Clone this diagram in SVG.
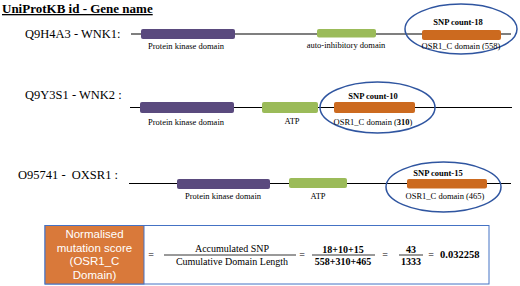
<svg xmlns="http://www.w3.org/2000/svg" width="520" height="286" viewBox="0 0 520 286">
<style>
.t{font-family:"Liberation Serif",serif;fill:#000}
.lbl{font-size:12.5px}
.sm{font-size:8.5px;text-anchor:middle}
.snp{font-size:8.5px;font-weight:bold;text-anchor:middle}
.bb{stroke:#000;stroke-width:1.2}
.pk{fill:#5a4a7e}
.gr{fill:#9bbb59}
.or{fill:#cc6a1f}
.ell{fill:none;stroke:#2f55a0;stroke-width:1.5}
.eq{font-size:10px;text-anchor:middle}
.fr{font-size:10px;text-anchor:middle}
.frb{font-size:10px;text-anchor:middle;font-weight:bold}
.fl{stroke:#000;stroke-width:0.8}
.w{font-family:"Liberation Sans",sans-serif;font-size:11.5px;fill:#fff;text-anchor:middle}
</style>
<rect width="520" height="286" fill="#fff"/>
<text class="t" x="2" y="13" font-size="13" font-weight="bold" text-decoration="underline">UniProtKB id - Gene name</text>
<g id="connectors">
<line class="bb" x1="131" y1="34" x2="511" y2="34"/>
<line class="bb" x1="130" y1="107.5" x2="512" y2="107.5"/>
<line class="bb" x1="129" y1="183.5" x2="511" y2="183.5"/>
</g>
<g id="wnk1">
<text class="t lbl" x="25" y="38">Q9H4A3 - WNK1:</text>
<rect class="pk" x="141" y="29" width="94" height="10" rx="2"/>
<text class="t sm" x="186" y="49">Protein kinase domain</text>
<rect class="gr" x="317" y="29" width="59" height="8.5" rx="2"/>
<text class="t sm" x="346" y="48">auto-inhibitory domain</text>
<rect class="or" x="422" y="30" width="79" height="10" rx="2"/>
<ellipse class="ell" cx="461" cy="29" rx="56" ry="25"/>
<text class="t snp" x="458" y="25">SNP count-18</text>
<text class="t sm" x="461" y="49">OSR1_C domain (558)</text>
</g>
<g id="wnk2">
<text class="t lbl" x="25" y="99">Q9Y3S1 - WNK2 :</text>
<rect class="pk" x="140" y="102" width="94" height="11" rx="2"/>
<text class="t sm" x="186" y="125">Protein kinase domain</text>
<rect class="gr" x="262" y="102" width="56" height="11" rx="2"/>
<text class="t sm" x="292" y="124">ATP</text>
<rect class="or" x="334" y="102" width="81" height="11" rx="2"/>
<ellipse class="ell" cx="377.5" cy="107.5" rx="57.5" ry="25.5"/>
<text class="t snp" x="373" y="99">SNP count-10</text>
<text class="t sm" x="373" y="125">OSR1_C domain (<tspan font-weight="bold">310</tspan>)</text>
</g>
<g id="oxsr1">
<text class="t lbl" x="18" y="179" xml:space="preserve">O95741 -  OXSR1 :</text>
<rect class="pk" x="177" y="179" width="93" height="10" rx="2"/>
<text class="t sm" x="223" y="199">Protein kinase domain</text>
<rect class="gr" x="289" y="178" width="58" height="10" rx="2"/>
<text class="t sm" x="318" y="199">ATP</text>
<rect class="or" x="407" y="179" width="80" height="9.5" rx="2"/>
<ellipse class="ell" cx="443.5" cy="187" rx="57.5" ry="25"/>
<text class="t snp" x="438" y="176">SNP count-15</text>
<text class="t sm" x="445" y="199">OSR1_C domain (465)</text>
</g>
<g id="formula">
<rect x="45" y="225.5" width="444" height="58.5" fill="#fff" stroke="#4472c4" stroke-width="1"/>
<rect x="45" y="225.5" width="99" height="58.5" fill="#d9793a" stroke="#4472c4" stroke-width="1"/>
<text class="w" x="94.5" y="238">Normalised</text>
<text class="w" x="94.5" y="251.5">mutation score</text>
<text class="w" x="94.5" y="265">(OSR1_C</text>
<text class="w" x="94.5" y="279">Domain)</text>
<text class="t eq" x="151" y="258">=</text>
<text class="t fr" x="232" y="252">Accumulated SNP</text>
<line class="fl" x1="164" y1="255" x2="296" y2="255"/>
<text class="t fr" x="232" y="265">Cumulative Domain Length</text>
<text class="t eq" x="302" y="258">=</text>
<text class="t frb" x="343" y="253">18+10+15</text>
<line class="fl" x1="312" y1="255" x2="375" y2="255"/>
<text class="t frb" x="343" y="265">558+310+465</text>
<text class="t eq" x="385" y="258">=</text>
<text class="t frb" x="411" y="253">43</text>
<line class="fl" x1="399" y1="255" x2="423" y2="255"/>
<text class="t frb" x="411" y="265">1333</text>
<text class="t eq" x="431" y="258">=</text>
<text class="t" x="440" y="258" font-size="10.5" font-weight="bold">0.032258</text>
</g>
</svg>
